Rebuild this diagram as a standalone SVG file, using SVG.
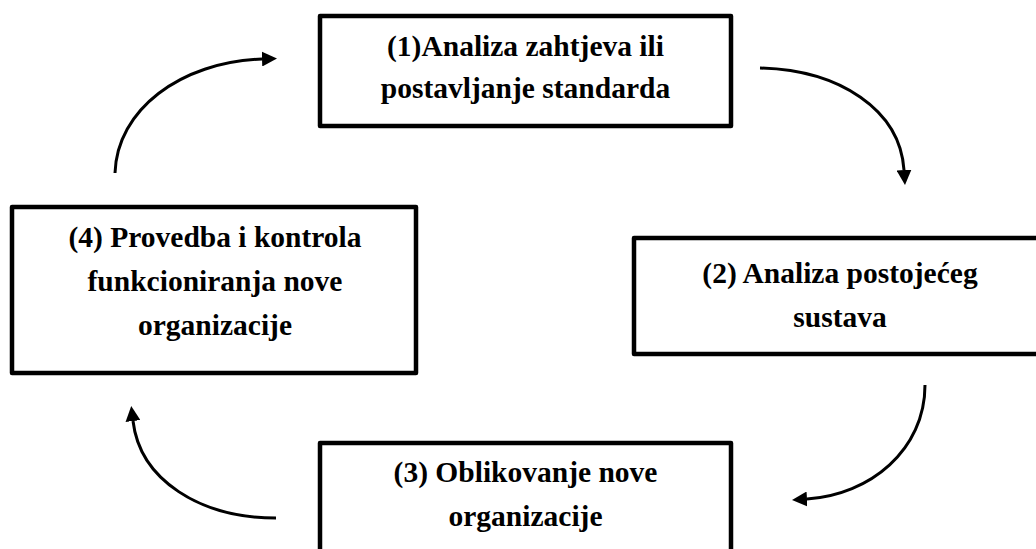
<svg xmlns="http://www.w3.org/2000/svg" width="1036" height="549" viewBox="0 0 1036 549">
<style>
.box{fill:#fff;stroke:#000;stroke-width:4.5;stroke-linejoin:round}
.lbl{font-weight:bold;font-size:29.5px;fill:#000;text-anchor:middle}
.con{fill:none;stroke:#000;stroke-width:3}
</style>
<defs>
<marker id="ah" viewBox="0 0 15 15" refX="0" refY="7.5" markerWidth="15" markerHeight="15" markerUnits="userSpaceOnUse" orient="auto">
<path d="M0,0 L15,7.5 L0,15 z" fill="#000"/>
</marker>
</defs>
<rect width="1036" height="549" fill="#fff"/>
<g id="connectors">
<path class="con" marker-end="url(#ah)" d="M115,173 C117,110 180,62 262,59"/>
<path class="con" marker-end="url(#ah)" d="M760,68 C840,70 900,110 904,170"/>
<path class="con" marker-end="url(#ah)" d="M925,385 C925,450 870,495 807,499"/>
<path class="con" marker-end="url(#ah)" d="M276,518 C200,518 140,480 133,421"/>
</g>
<g font-family="'Liberation Serif', 'Times New Roman', 'DejaVu Serif', serif">
<g id="node1">
<rect class="box" x="320" y="16" width="411" height="110"/>
<text class="lbl" x="525.5" y="56">(1)Analiza zahtjeva ili</text>
<text class="lbl" x="525.5" y="98">postavljanje standarda</text>
</g>
<g id="node2">
<rect class="box" x="634" y="238" width="412" height="116"/>
<text class="lbl" x="840" y="283">(2) Analiza postojećeg</text>
<text class="lbl" x="840" y="327">sustava</text>
</g>
<g id="node3">
<rect class="box" x="320" y="443" width="411" height="120"/>
<text class="lbl" x="525.5" y="482">(3) Oblikovanje nove</text>
<text class="lbl" x="525.5" y="526">organizacije</text>
</g>
<g id="node4">
<rect class="box" x="12" y="207" width="404" height="166"/>
<text class="lbl" x="215" y="247">(4) Provedba i kontrola</text>
<text class="lbl" x="215" y="291">funkcioniranja nove</text>
<text class="lbl" x="215" y="335">organizacije</text>
</g>
</g>
</svg>
